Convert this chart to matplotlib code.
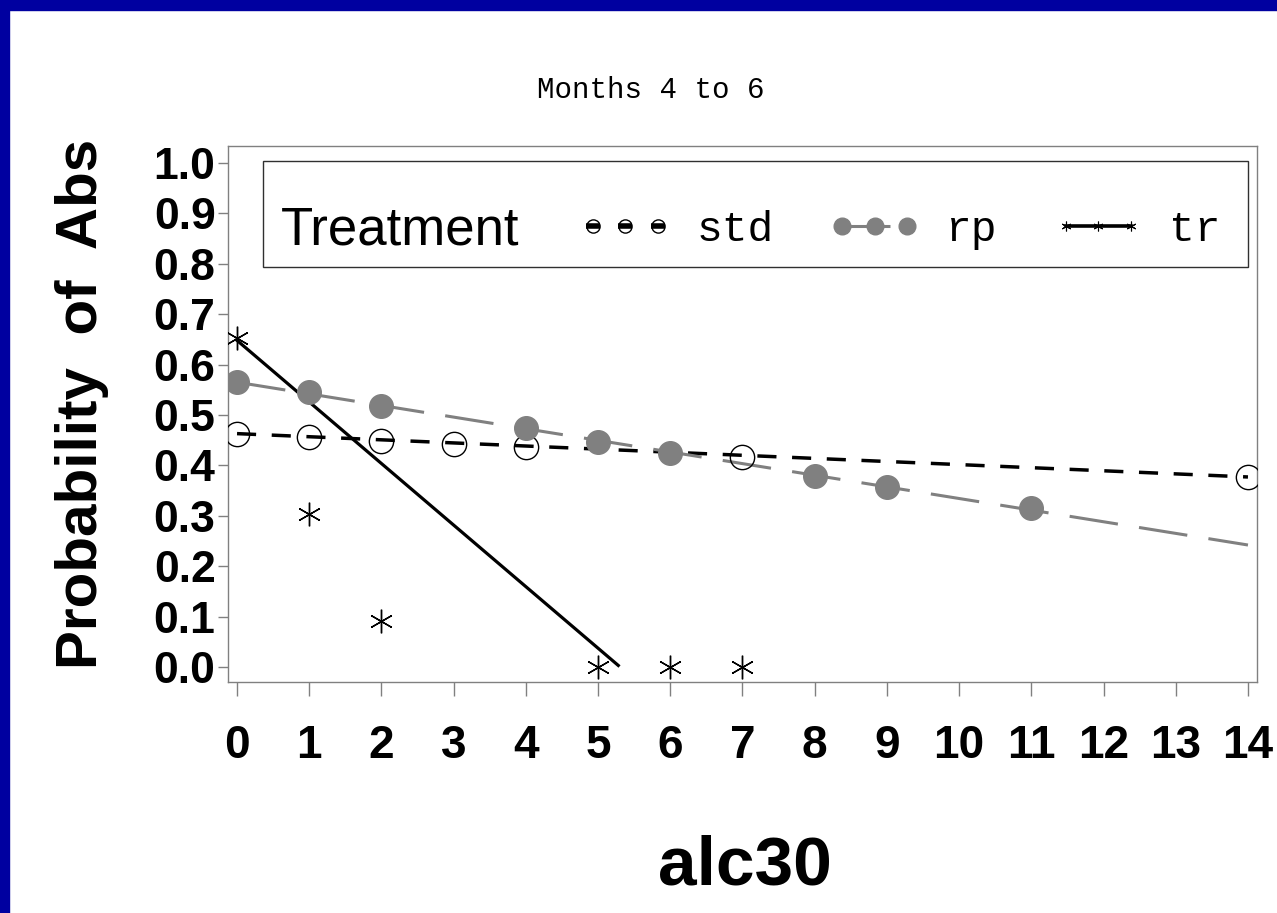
import matplotlib
matplotlib.use('Agg')
from matplotlib import pyplot as plt
from matplotlib.lines import Line2D
from matplotlib.patches import Rectangle
from matplotlib.legend_handler import HandlerTuple

# observed probabilities by alc30 value
alc30_std = [0, 1, 2, 3, 4, 7, 14]
prob_std = [0.462, 0.456, 0.448, 0.442, 0.437, 0.417, 0.377]
alc30_rp = [0, 1, 2, 4, 5, 6, 8, 9, 11]
prob_rp = [0.565, 0.546, 0.518, 0.474, 0.446, 0.425, 0.379, 0.357, 0.315]
alc30_tr = [0, 1, 2, 5, 6, 7]
prob_tr = [0.653, 0.303, 0.091, 0.0, 0.0, 0.0]

# fitted lines (end points)
fit_std_x = [0, 14]
fit_std_y = [0.463, 0.377]
fit_rp_x = [0, 14]
fit_rp_y = [0.565, 0.242]
fit_tr_x = [0, 5.28]
fit_tr_y = [0.648, 0.003]

x_ticks = list(range(15))
y_ticks = [i / 10 for i in range(11)]

GRAY = '#808080'
BOLD = 'Liberation Sans'
MONO = 'Liberation Mono'
STAR = (6, 2, 0)

fig = plt.figure(figsize=(12.77, 9.13), dpi=100)
fig.patches.append(Rectangle((0, 0), 9 / 1277, 1, transform=fig.transFigure,
                             color='#0000A0', zorder=0))
fig.patches.append(Rectangle((0, 1 - 10 / 913), 1, 10 / 913, transform=fig.transFigure,
                             color='#0000A0', zorder=0))

ax = fig.add_axes([228 / 1277, 1 - 682 / 913, 1029 / 1277, 536 / 913])

ax.plot(fit_std_x, fit_std_y, color='black', lw=2.5, dashes=(5.5, 4.5), zorder=2)
ax.plot(fit_rp_x, fit_rp_y, color=GRAY, lw=2.2, dashes=(16, 7), zorder=2)
ax.plot(fit_tr_x, fit_tr_y, color='black', lw=2.3, zorder=2)

ax.plot(alc30_std, prob_std, linestyle='none', marker='o', ms=17.5, mfc='none',
        mec='black', mew=1.0, zorder=3)
ax.plot(alc30_rp, prob_rp, linestyle='none', marker='o', ms=17, mfc=GRAY,
        mec=GRAY, zorder=3)
ax.plot(alc30_tr, prob_tr, linestyle='none', marker=STAR, ms=17, color='black',
        mew=1.0, zorder=4)

ax.set_xlim(-0.125, 14.125)
ax.set_ylim(-0.0298, 1.0337)
ax.set_xticks(x_ticks)
ax.set_yticks(y_ticks)
ax.set_xticklabels([str(v) for v in x_ticks], fontsize=33, fontweight='bold', family=BOLD)
ax.set_yticklabels(['%.1f' % v for v in y_ticks], fontsize=32, fontweight='bold', family=BOLD)
ax.tick_params(axis='x', length=10, width=1, color=GRAY, pad=20)
ax.tick_params(axis='y', length=7, width=1, color=GRAY, pad=2)
for s in ax.spines.values():
    s.set_color(GRAY)
    s.set_linewidth(1)

ax.set_ylabel('Probability  of  Abs', fontsize=42, fontweight='bold', family=BOLD)
ax.yaxis.set_label_coords(-0.116, 0.519)
ax.set_xlabel('alc30', fontsize=50, fontweight='bold', family=BOLD, va='top')
ax.xaxis.set_label_coords(0.502, -0.285)

fig.text(651 / 1277, 1 - 90 / 913, 'Months 4 to 6', fontsize=21, family=MONO,
         ha='center', va='center')

# legend box
ax.add_patch(Rectangle((0.034, 0.774), 0.957, 0.198, transform=ax.transAxes,
                       fill=False, edgecolor='#303030', lw=1, zorder=5))
ax.text(0.051, 0.843, 'Treatment', transform=ax.transAxes, fontsize=38,
        family=BOLD, ha='left', va='center', zorder=5)
std_circles = Line2D([], [], linestyle='none', marker='o', ms=9.5, mfc='white',
                     mec='black', mew=1.0)
std_bars = Line2D([], [], linestyle='none', marker='_', ms=10, mew=4, color='black')
rp_handle = Line2D([], [], color=GRAY, lw=2.2, linestyle=(0, (15.7, 19.6)), marker='o',
                   ms=12, mfc=GRAY, mec=GRAY)
tr_handle = Line2D([], [], color='black', lw=2.6, marker=STAR, ms=7, mew=0.8)
leg = ax.legend([(std_circles, std_bars), rp_handle, tr_handle], ['std', 'rp', 'tr'],
                handler_map={tuple: HandlerTuple(ndivide=1)},
                ncol=3, numpoints=3, frameon=False,
                loc='center right', bbox_to_anchor=(0.965, 0.843),
                borderaxespad=0, borderpad=0, handlelength=2.1,
                handletextpad=0.6, columnspacing=1.3,
                prop={'family': MONO, 'size': 31})

fig.savefig('out.png', dpi=100)
